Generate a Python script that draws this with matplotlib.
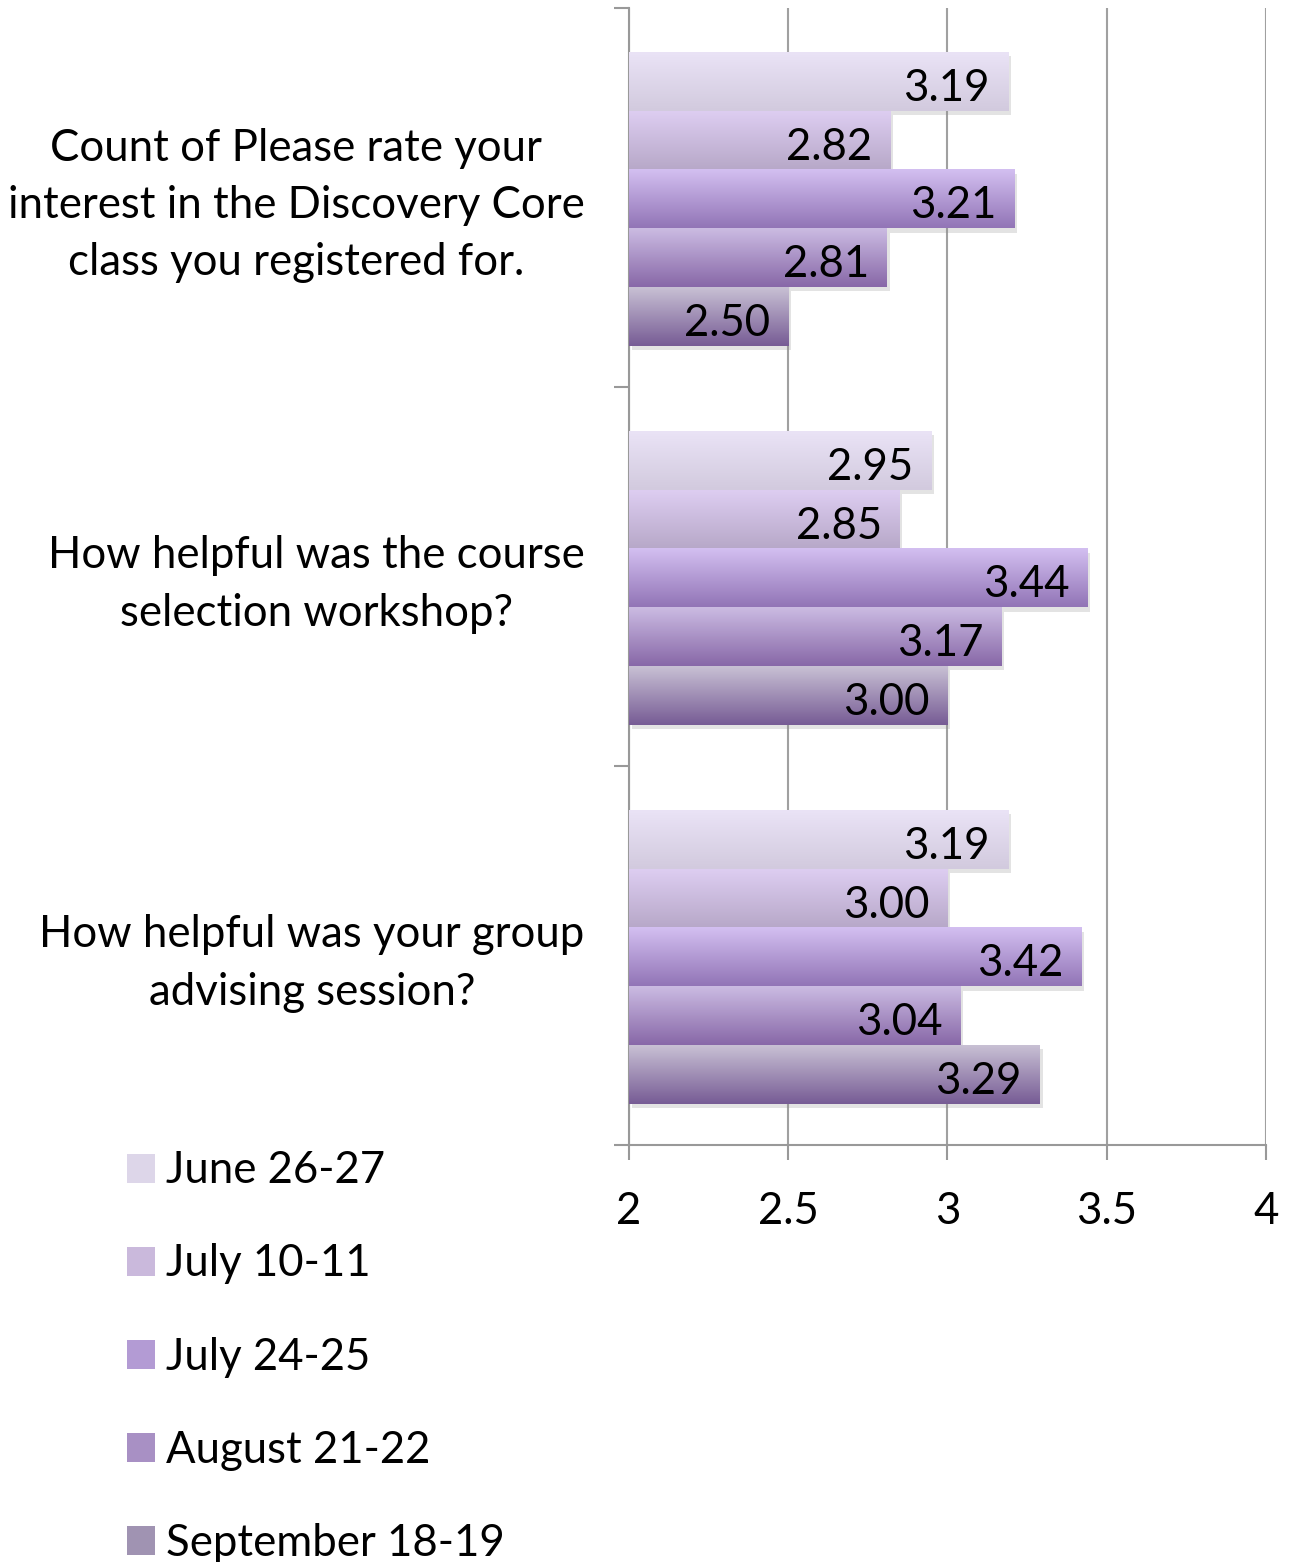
import numpy as np
import matplotlib
matplotlib.use('Agg')
import matplotlib.pyplot as plt
from matplotlib.colors import LinearSegmentedColormap
from matplotlib.patches import Patch
import matplotlib.patheffects as pe
import matplotlib.transforms as mtransforms

plt.rcParams['font.family'] = ['Lato', 'DejaVu Sans']

questions = ['Count of Please rate your\ninterest in the Discovery Core\nclass you registered for.',
             'How helpful was the course\nselection workshop?',
             'How helpful was your group\nadvising session?']
sessions = ['June 26-27', 'July 10-11', 'July 24-25', 'August 21-22', 'September 18-19']

june = [3.19, 2.95, 3.19]
july1 = [2.82, 2.85, 3.00]
july2 = [3.21, 3.44, 3.42]
august = [2.81, 3.17, 3.04]
september = [2.50, 3.00, 3.29]
series = [june, july1, july2, august, september]

# gradient top / bottom colours for each series
grad_top = ['#eae3f6', '#ddcdf1', '#d3bff1', '#cbbbe2', '#c8c0d4']
grad_bot = ['#d2cade', '#b7a8c8', '#9275b6', '#8868a8', '#775c95']

fs = 31.5
fig = plt.figure(figsize=(12.91, 15.62), dpi=100)
ax = fig.add_axes([0.4872, 0.2670, 0.4934, 0.7279])

bar_h = 0.155
centers = np.arange(len(questions)) + 0.5 + 0.004
for i, vals in enumerate(series):
    ypos = centers + (i - 2) * bar_h
    bars = ax.barh(ypos, np.array(vals) - 2, left=2, height=bar_h,
                   color=grad_bot[i], zorder=3,
                   path_effects=[pe.SimplePatchShadow(offset=(2, -3), shadow_rgbFace='#909090', alpha=0.25),
                                 pe.Normal()])
    cmap = LinearSegmentedColormap.from_list('g%d' % i, [grad_top[i], grad_bot[i]])
    grad = np.linspace(0, 1, 64).reshape(-1, 1)
    for b, v in zip(bars, vals):
        x0, y0 = b.get_x(), b.get_y()
        ax.imshow(grad, cmap=cmap, extent=(x0, x0 + b.get_width(), y0 + b.get_height(), y0),
                  origin='upper', aspect='auto', zorder=4, interpolation='bilinear')
        ax.annotate('%.2f' % v, (x0 + b.get_width(), y0 + b.get_height() / 2),
                    xytext=(-13, -5), textcoords='offset points', ha='right', va='center',
                    fontsize=fs, color='black', zorder=5)

ax.set_xlim(2, 4)
ax.set_ylim(3, 0)
ax.set_xticks([2, 2.5, 3, 3.5, 4])
ax.set_xticklabels(['2', '2.5', '3', '3.5', '4'])
ax.set_yticks([0, 1, 2, 3])
ax.set_yticklabels([])
ax.set_yticks(centers, minor=True)
ax.set_yticklabels(questions, minor=True, fontsize=fs, multialignment='center', linespacing=1.49)
ax.tick_params(axis='y', which='minor', length=0, pad=32)
ax.tick_params(axis='y', which='major', length=11, width=1.5, color='#999999')
ax.tick_params(axis='x', length=11, width=1.5, color='#999999', labelsize=fs, pad=22)
ax.grid(axis='x', color='#a0a0a0', linewidth=1.5, zorder=0)
ax.set_axisbelow(True)
for s in ['top', 'right']:
    ax.spines[s].set_visible(False)
for s in ['left', 'bottom']:
    ax.spines[s].set_color('#999999')
    ax.spines[s].set_linewidth(1.5)

# nudge the question labels up a little
shift = mtransforms.ScaledTranslation(0, 4 / 72, fig.dpi_scale_trans)
for lbl in ax.get_yticklabels(minor=True):
    lbl.set_transform(lbl.get_transform() + shift)

mid = ['#ddd6e9', '#cab9dc', '#b39bd4', '#a890c4', '#a093b2']
handles = [Patch(facecolor=mid[i], edgecolor='none') for i in range(len(sessions))]
fig.legend(handles, sessions, loc='upper left', bbox_to_anchor=(0.068, 0.2887),
           frameon=False, fontsize=fs, handlelength=0.64, handleheight=0.64,
           handletextpad=0.25, labelspacing=1.19)

fig.savefig('out.png', dpi=100)
